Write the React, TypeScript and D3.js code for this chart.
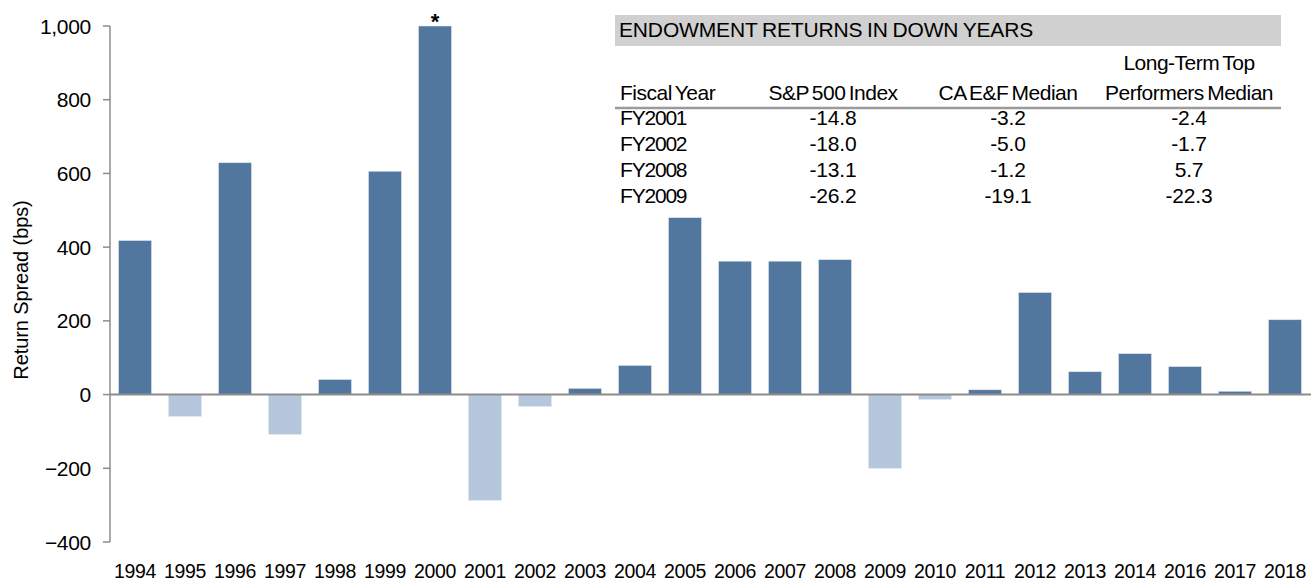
import React from "react";
import * as d3 from "d3";

const years = ["1994","1995","1996","1997","1998","1999","2000","2001","2002","2003","2004","2005","2006","2007","2008","2009","2010","2011","2012","2013","2014","2016","2017","2018"];
const spreads = [418,-59,629,-108,41,606,1000,-287,-32,17,79,480,362,362,366,-200,-13,13,277,62,111,76,9,203];
const yTicks = [-400,-200,0,200,400,600,800,1000];
const starredYear = "2000";

const tableTitle = "ENDOWMENT RETURNS IN DOWN YEARS";
const tableHeaders = ["Fiscal Year", "S&P 500 Index", "CA E&F Median", "Performers Median"];
const tableHeaderTop = "Long-Term Top";
const fiscalYears = ["FY2001","FY2002","FY2008","FY2009"];
const sp500 = ["-14.8","-18.0","-13.1","-26.2"];
const caefMedian = ["-3.2","-5.0","-1.2","-19.1"];
const topPerformers = ["-2.4","-1.7","5.7","-22.3"];

const W = 1311, H = 581;
const FONT = "'Liberation Sans', Arial, Helvetica, sans-serif";
const DARK = "#52779f";
const LIGHT = "#b4c7dc";
const AXIS = "#8c8c8c";

export default function App() {
  const x = d3.scaleBand<string>().domain(years).range([110, 1310]).paddingInner(0.34).paddingOuter(0.17);
  const y = d3.scaleLinear().domain([-400, 1000]).range([542, 26]);
  const fmt = d3.format(",");
  const y0 = y(0);

  const colX = [620, 833, 1008, 1189];
  const rowY = [125, 151, 177, 203];
  const hdr = { fontSize: 21, letterSpacing: -0.5, wordSpacing: -2 };
  const cell = { fontSize: 21, letterSpacing: -0.2 };

  return (
    <svg width={W} height={H} style={{ position: "absolute", left: 0, top: 0, fontFamily: FONT }}>
      <rect x={0} y={0} width={W} height={H} fill="#fff" />
      {years.map((yr, i) => {
        const v = spreads[i];
        const top = y(Math.max(0, v));
        const bot = y(Math.min(0, v));
        return (
          <rect key={yr} x={x(yr)} y={top} width={x.bandwidth()} height={bot - top}
            fill={v >= 0 ? DARK : LIGHT} stroke="#dfe7f0" strokeWidth={0.6} />
        );
      })}
      <text x={(x(starredYear) as number) + x.bandwidth() / 2} y={y(1000) + 3} textAnchor="middle"
        fontSize={22} fontWeight="bold" fill="#000">*</text>
      <line x1={110} x2={110} y1={y(1000)} y2={y(-400)} stroke={AXIS} strokeWidth={1.5} />
      {yTicks.map((t) => (
        <g key={t}>
          <line x1={103} x2={110} y1={y(t)} y2={y(t)} stroke={AXIS} strokeWidth={1.5} />
          <text x={91} y={y(t) + 7.5} textAnchor="end" fontSize={21} letterSpacing={-0.3} fill="#000">{fmt(t)}</text>
        </g>
      ))}
      <line x1={110} x2={1311} y1={y0} y2={y0} stroke={AXIS} strokeWidth={2} />
      {years.map((yr) => (
        <text key={yr} x={(x(yr) as number) + x.bandwidth() / 2} y={578} textAnchor="middle" fontSize={19.5} letterSpacing={-0.3} fill="#000">{yr}</text>
      ))}
      <text transform={`translate(28,290) rotate(-90)`} textAnchor="middle" fontSize={20} letterSpacing={-0.1} fill="#000">Return Spread (bps)</text>

      <rect x={615} y={15} width={666} height={31} fill="#d0d0d0" />
      <text x={619} y={37} fontSize={21} letterSpacing={-0.15} wordSpacing={-1} fill="#000">{tableTitle}</text>
      <text x={colX[3]} y={70} textAnchor="middle" {...hdr} fill="#000">{tableHeaderTop}</text>
      {tableHeaders.map((h, i) => (
        <text key={h} x={colX[i]} y={100} textAnchor={i === 0 ? "start" : "middle"} {...hdr} fill="#000">{h}</text>
      ))}
      <line x1={615} x2={1281} y1={108} y2={108} stroke="#9a9a9a" strokeWidth={2.5} />
      {fiscalYears.map((fy, r) => (
        <g key={fy}>
          <text x={colX[0]} y={rowY[r]} fontSize={21} letterSpacing={-1.2} fill="#000">{fy}</text>
          <text x={colX[1]} y={rowY[r]} textAnchor="middle" {...cell} fill="#000">{sp500[r]}</text>
          <text x={colX[2]} y={rowY[r]} textAnchor="middle" {...cell} fill="#000">{caefMedian[r]}</text>
          <text x={colX[3]} y={rowY[r]} textAnchor="middle" {...cell} fill="#000">{topPerformers[r]}</text>
        </g>
      ))}
    </svg>
  );
}
